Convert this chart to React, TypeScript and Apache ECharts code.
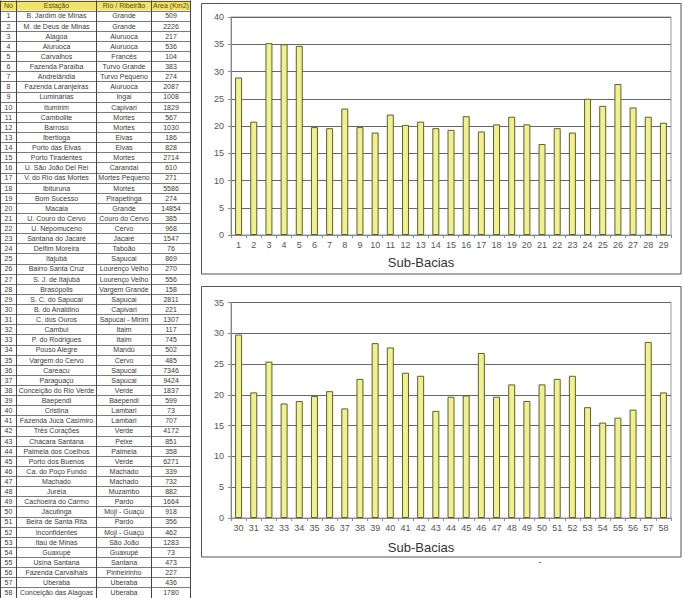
import React, { useEffect, useRef } from "react";
import * as echarts from "echarts";

// ---------- Table data ----------
const tableHeader = ["No", "Estação", "Rio / Ribeirão", "Área (Km2)"];
const stationNumbers = [
  1, 2, 3, 4, 5, 6, 7, 8, 9, 10, 11, 12, 13, 14, 15, 16, 17, 18, 19, 20,
  21, 22, 23, 24, 25, 26, 27, 28, 29, 30, 31, 32, 33, 34, 35, 36, 37, 38, 39, 40,
  41, 42, 43, 44, 45, 46, 47, 48, 49, 50, 51, 52, 53, 54, 55, 56, 57, 58,
];
const stations = [
  "B. Jardim de Minas", "M. de Deus de Minas", "Alagoa", "Aiuruoca", "Carvalhos",
  "Fazenda Paraíba", "Andrelândia", "Fazenda Laranjeiras", "Luminárias", "Itumirim",
  "Cambolite", "Barroso", "Ibertioga", "Porto das Elvas", "Porto Tiradentes",
  "U. São João Del Rei", "V. do Rio das Mortes", "Ibituruna", "Bom Sucesso", "Macaia",
  "U. Couro do Cervo", "U. Nepomuceno", "Santana do Jacaré", "Delfim Moreira", "Itajubá",
  "Bairro Santa Cruz", "S. J. de Itajubá", "Brasópolis", "S. C. do Sapucai", "B. do Analdino",
  "C. dos Ouros", "Cambui", "P. do Rodrigues", "Pouso Alegre", "Vargem do Cervo",
  "Careacu", "Paraguaçú", "Conceição do Rio Verde", "Baependi", "Cristina",
  "Fazenda Juca Casimiro", "Três Corações", "Chácara Santana", "Palmela dos Coelhos", "Porto dos Buenos",
  "Ca. do Poço Fundo", "Machado", "Juréia", "Cachoeira do Carmo", "Jacutinga",
  "Beira de Santa Rita", "Inconfidentes", "Itaú de Minas", "Guaxupé", "Usina Santana",
  "Fazenda Carvalhais", "Uberaba", "Conceição das Alagoas",
];
const rivers = [
  "Grande", "Grande", "Aiuruoca", "Aiuruoca", "Francês",
  "Turvo Grande", "Turvo Pequeno", "Aiuruoca", "Ingai", "Capivari",
  "Mortes", "Mortes", "Elvas", "Elvas", "Mortes",
  "Carandai", "Mortes Pequeno", "Mortes", "Pirapetinga", "Grande",
  "Couro do Cervo", "Cervo", "Jacaré", "Taboão", "Sapucai",
  "Lourenço Velho", "Lourenço Velho", "Vargem Grande", "Sapucai", "Capivari",
  "Sapucai - Mirim", "Itaim", "Itaim", "Mandú", "Cervo",
  "Sapucai", "Sapucai", "Verde", "Baependi", "Lambari",
  "Lambari", "Verde", "Peixe", "Palmela", "Verde",
  "Machado", "Machado", "Muzambo", "Pardo", "Moji - Guaçú",
  "Pardo", "Moji - Guaçú", "São João", "Guaxupé", "Santana",
  "Pinheirinho", "Uberaba", "Uberaba",
];
const areas = [
  509, 2226, 217, 536, 104, 383, 274, 2087, 1008, 1829,
  567, 1030, 186, 828, 2714, 610, 271, 5586, 274, 14854,
  385, 968, 1547, 76, 869, 270, 556, 158, 2811, 221,
  1307, 117, 745, 502, 485, 7346, 9424, 1837, 599, 73,
  707, 4172, 851, 358, 6271, 339, 732, 882, 1664, 918,
  356, 462, 1283, 73, 473, 227, 436, 1780,
];

// ---------- Chart data ----------
const categoriesTop = [
  "1", "2", "3", "4", "5", "6", "7", "8", "9", "10", "11", "12", "13", "14", "15",
  "16", "17", "18", "19", "20", "21", "22", "23", "24", "25", "26", "27", "28", "29",
];
const valuesTop = [
  28.9, 20.8, 35.2, 35.0, 34.7, 19.8, 19.6, 23.2, 19.8, 18.8, 22.1, 20.2, 20.8, 19.6, 19.3,
  21.8, 19.0, 20.3, 21.7, 20.3, 16.7, 19.6, 18.8, 25.0, 23.7, 27.7, 23.4, 21.7, 20.6,
];
const categoriesBottom = [
  "30", "31", "32", "33", "34", "35", "36", "37", "38", "39", "40", "41", "42", "43", "44",
  "45", "46", "47", "48", "49", "50", "51", "52", "53", "54", "55", "56", "57", "58",
];
const valuesBottom = [
  29.8, 20.4, 25.4, 18.6, 19.0, 19.8, 20.6, 17.8, 22.6, 28.4, 27.7, 23.6, 23.1, 17.4, 19.7,
  19.9, 26.8, 19.7, 21.7, 19.0, 21.7, 22.6, 23.1, 18.0, 15.5, 16.3, 17.6, 28.6, 20.4,
];
const yTicksTop = { min: 0, max: 40, interval: 5 };
const yTicksBottom = { min: 0, max: 35, interval: 5 };
const xAxisTitle = "Sub-Bacias";

const FONT = '"Liberation Sans", Arial, sans-serif';

function buildTable(): any[] {
  const els: any[] = [];
  const colX = [0.5, 16.5, 96.5, 151.5, 190.5];
  const rowH = 10.12;
  const nRows = stationNumbers.length + 1;
  const top = 0.5;
  const bottom = top + nRows * rowH;
  // header background
  els.push({
    type: "rect",
    silent: true,
    shape: { x: colX[0], y: top, width: colX[4] - colX[0], height: rowH },
    style: { fill: "#F2E26A", stroke: null },
  });
  // horizontal lines
  for (let i = 0; i <= nRows; i++) {
    const y = Math.round(top + i * rowH) + 0.5;
    els.push({
      type: "line",
      silent: true,
      shape: { x1: colX[0], y1: y, x2: colX[4], y2: y },
      style: { stroke: i === 0 || i === nRows ? "#555" : "#7a7a7a", lineWidth: 1 },
    });
  }
  // vertical lines
  colX.forEach((x) => {
    els.push({
      type: "line",
      silent: true,
      shape: { x1: x, y1: top, x2: x, y2: Math.round(bottom) + 0.5 },
      style: { stroke: "#444", lineWidth: 1 },
    });
  });
  const centers = [8.5, 56.5, 124, 171];
  const addRow = (cells: string[], i: number, header: boolean) => {
    const yc = top + i * rowH + rowH / 2 + 0.3;
    cells.forEach((t, c) => {
      els.push({
        type: "text",
        silent: true,
        x: centers[c],
        y: yc,
        style: {
          text: t,
          fill: header ? "#5a4f1a" : "#3a3a3a",
          fontSize: 7,
          fontFamily: FONT,
          align: "center",
          verticalAlign: "middle",
        },
      });
    });
  };
  addRow(tableHeader, 0, true);
  stationNumbers.forEach((n, i) => {
    addRow([String(n), stations[i], rivers[i], String(areas[i])], i + 1, false);
  });
  return els;
}

function makeGridAxes(idx: number, cats: string[], yt: { min: number; max: number; interval: number }) {
  const xAxis = {
    type: "category",
    gridIndex: idx,
    data: cats,
    boundaryGap: true,
    axisLine: { show: true, lineStyle: { color: "#888", width: 1 } },
    axisTick: { show: true, length: 3, inside: false, lineStyle: { color: "#888" } },
    axisLabel: { interval: 0, fontSize: 9, color: "#555", margin: 5, fontFamily: FONT },
    splitLine: { show: false },
  };
  const yAxis = {
    type: "value",
    gridIndex: idx,
    min: yt.min,
    max: yt.max,
    interval: yt.interval,
    axisLine: { show: true, lineStyle: { color: "#888", width: 1 } },
    axisTick: { show: true, length: 3, inside: false, lineStyle: { color: "#888" } },
    axisLabel: { fontSize: 9, color: "#555", margin: 7, fontFamily: FONT },
    splitLine: { show: true, lineStyle: { color: "#666", width: 1 } },
  };
  return { xAxis, yAxis };
}

export default function App() {
  const ref = useRef<HTMLDivElement>(null);
  useEffect(() => {
    if (!ref.current) return;
    const chart = echarts.init(ref.current, undefined, { renderer: "svg" });
    const a0 = makeGridAxes(0, categoriesTop, yTicksTop);
    const a1 = makeGridAxes(1, categoriesBottom, yTicksBottom);
    const barStyle = { color: "#F0F08C", borderColor: "#5e5e34", borderWidth: 1 };
    const option: any = {
      animation: false,
      backgroundColor: "#ffffff",
      grid: [
        { left: 231, right: 12, top: 17, bottom: 363, show: true, borderColor: "#999", borderWidth: 1 },
        { left: 231, right: 12, top: 302.5, bottom: 80, show: true, borderColor: "#999", borderWidth: 1 },
      ],
      xAxis: [a0.xAxis, a1.xAxis],
      yAxis: [a0.yAxis, a1.yAxis],
      series: [
        {
          type: "bar",
          xAxisIndex: 0,
          yAxisIndex: 0,
          data: valuesTop,
          barWidth: 7,
          itemStyle: barStyle,
          silent: true,
        },
        {
          type: "bar",
          xAxisIndex: 1,
          yAxisIndex: 1,
          data: valuesBottom,
          barWidth: 7,
          itemStyle: barStyle,
          silent: true,
        },
      ],
      graphic: [
        {
          type: "rect",
          silent: true,
          shape: { x: 201.5, y: 3.5, width: 479.5, height: 270.5 },
          style: { fill: "none", stroke: "#555", lineWidth: 1 },
        },
        {
          type: "rect",
          silent: true,
          shape: { x: 201.5, y: 286.5, width: 479.5, height: 270.5 },
          style: { fill: "none", stroke: "#555", lineWidth: 1 },
        },
        {
          type: "text",
          silent: true,
          x: 421,
          y: 262,
          style: { text: xAxisTitle, fill: "#333", fontSize: 13, fontFamily: FONT, align: "center", verticalAlign: "middle" },
        },
        {
          type: "text",
          silent: true,
          x: 421,
          y: 547,
          style: { text: xAxisTitle, fill: "#333", fontSize: 13, fontFamily: FONT, align: "center", verticalAlign: "middle" },
        },
        {
          type: "text",
          silent: true,
          x: 540,
          y: 562,
          style: { text: "-", fill: "#333", fontSize: 9, fontFamily: FONT, align: "center", verticalAlign: "middle" },
        },
        ...buildTable(),
      ],
    };
    chart.setOption(option);
    return () => chart.dispose();
  }, []);
  return (
    <div
      ref={ref}
      style={{ position: "absolute", left: 0, top: 0, width: 683, height: 598 }}
    />
  );
}
